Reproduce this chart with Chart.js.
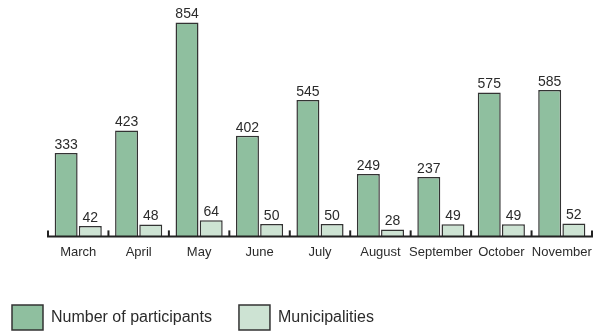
<!DOCTYPE html>
<html>
<head>
<meta charset="utf-8">
<script src="https://cdn.jsdelivr.net/npm/chart.js@4"></script>
<style>
  html, body { margin: 0; padding: 0; background: #fff; }
  #wrap { width: 594px; height: 333px; }
</style>
</head>
<body>
<div id="wrap"><canvas id="participationChart"></canvas></div>
<script>
const months = ['March', 'April', 'May', 'June', 'July', 'August', 'September', 'October', 'November'];
const participants = [333, 423, 854, 402, 545, 249, 237, 575, 585];
const municipalities = [42, 48, 64, 50, 50, 28, 49, 49, 52];

const FONT = "'Liberation Sans', Arial, sans-serif";
const TEXT = '#2b2b2b';

// value labels above each bar
const valueLabels = {
    id: 'valueLabels',
    afterDatasetsDraw(chart) {
        const ctx = chart.ctx;
        ctx.save();
        ctx.font = '14px ' + FONT;
        ctx.fillStyle = TEXT;
        ctx.textAlign = 'center';
        ctx.textBaseline = 'bottom';
        chart.data.datasets.forEach((ds, i) => {
            chart.getDatasetMeta(i).data.forEach((bar, j) => {
                ctx.fillText(ds.data[j], bar.x, bar.y - 1);
            });
        });
        ctx.restore();
    }
};

// small upward ticks on the axis at category boundaries
const axisTicks = {
    id: 'axisTicks',
    afterDraw(chart) {
        const x = chart.scales.x;
        const ctx = chart.ctx;
        const step = x.getPixelForValue(1) - x.getPixelForValue(0);
        ctx.save();
        ctx.strokeStyle = '#222';
        ctx.lineWidth = 2;
        for (let i = 0; i <= months.length; i++) {
            const px = x.getPixelForValue(i) - step / 2;
            ctx.beginPath();
            ctx.moveTo(px, x.top);
            ctx.lineTo(px, x.top - 6);
            ctx.stroke();
        }
        ctx.beginPath();
        ctx.moveTo(x.left - 1, x.top);
        ctx.lineTo(x.right + 1, x.top);
        ctx.stroke();
        ctx.restore();
    }
};

// pull the legend a little closer to the bottom edge
const legendShift = {
    id: 'legendShift',
    beforeInit(chart) {
        const fit = chart.legend.fit;
        chart.legend.fit = function () {
            fit.call(this);
            this.height -= 7;
        };
    }
};

new Chart(document.getElementById('participationChart'), {
    type: 'bar',
    data: {
        labels: months,
        datasets: [{
            label: 'Number of participants',
            data: participants,
            backgroundColor: '#8fbf9f',
            borderColor: '#333',
            borderWidth: 1.5,
            borderSkipped: 'bottom'
        }, {
            label: 'Municipalities',
            data: municipalities,
            backgroundColor: '#cde3d3',
            borderColor: '#333',
            borderWidth: 1.5,
            borderSkipped: 'bottom'
        }]
    },
    options: {
        responsive: true,
        maintainAspectRatio: false,
        animation: false,
        categoryPercentage: 0.8,
        barPercentage: 0.95,
        layout: { padding: { top: 11, right: 2, left: -15, bottom: 0 } },
        plugins: {
            tooltip: { enabled: false },
            legend: {
                position: 'bottom',
                align: 'start',
                labels: {
                    boxWidth: 31,
                    boxHeight: 25,
                    padding: 27,
                    color: TEXT,
                    font: { family: FONT, size: 16 }
                }
            }
        },
        scales: {
            x: {
                grid: { display: false },
                border: { display: false },
                ticks: {
                    color: TEXT,
                    font: { family: FONT, size: 13 },
                    padding: 0,
                    maxRotation: 0,
                    autoSkip: false
                },
                afterFit(scale) { scale.height += 18; }
            },
            y: {
                min: 0,
                max: 900,
                grid: { display: false },
                border: { display: false },
                ticks: { display: false },
                afterFit(scale) { scale.width = 63; }
            }
        }
    },
    plugins: [valueLabels, axisTicks, legendShift]
});
</script>
</body>
</html>
